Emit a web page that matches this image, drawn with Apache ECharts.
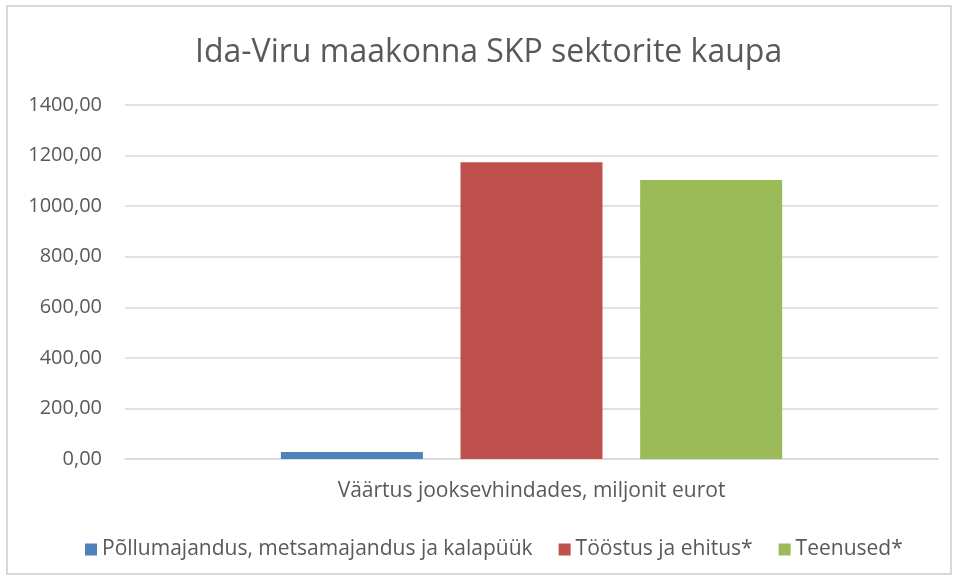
<!DOCTYPE html>
<html>
<head>
<meta charset="utf-8">
<script src="https://cdn.jsdelivr.net/npm/echarts@6/dist/echarts.min.js"></script>
<style>
    html, body { margin: 0; padding: 0; background: #fff; }
    #frame { position: absolute; left: 6px; top: 5px; width: 946px; height: 570px; border: 2px solid #d9d9d9; box-sizing: border-box; }
    #sector-chart { width: 954px; height: 577px; }
</style>
</head>
<body>
<div id="frame"></div>
<div id="sector-chart"></div>
<script>
// 数据
var categories = ['Väärtus jooksevhindades, miljonit eurot'];
var seriesNames = ['Põllumajandus, metsamajandus ja kalapüük', 'Tööstus ja ehitus*', 'Teenused*'];
var seriesColors = ['#4f81bd', '#c0504d', '#9bbb59'];
var agriValues = [27.7];
var industryValues = [1174];
var servicesValues = [1103];
var yTicks = [0, 200, 400, 600, 800, 1000, 1200, 1400];

var myChart = echarts.init(document.getElementById('sector-chart'));

var font = '"Open Sans", sans-serif';
var valueLists = [agriValues, industryValues, servicesValues];

var series = [];
for (let i = 0; i < seriesNames.length; i++) {
    series.push({
        name: seriesNames[i],
        type: 'bar',
        data: valueLists[i],
        barWidth: 142,
        barGap: '26.5%',
        itemStyle: { color: seriesColors[i] }
    });
}

var option = {
    animation: false,
    textStyle: { fontFamily: font },
    title: {
        text: 'Ida-Viru maakonna SKP sektorite kaupa',
        left: 190,
        top: 32,
        textStyle: { fontFamily: font, fontSize: 32, fontWeight: 'normal', color: '#595959' }
    },
    legend: {
        top: 534,
        left: 80,
        itemWidth: 12,
        itemHeight: 12,
        itemGap: 26,
        icon: 'rect',
        textStyle: { fontFamily: font, fontSize: 21, color: '#595959' },
        data: seriesNames
    },
    grid: { left: 125, right: 16, top: 105, bottom: 118 },
    xAxis: {
        type: 'category',
        data: categories,
        axisLine: { lineStyle: { color: '#d9d9d9', width: 1.5 } },
        axisTick: { show: false },
        axisLabel: { fontFamily: font, fontSize: 21, color: '#595959', margin: 22 }
    },
    yAxis: {
        type: 'value',
        min: yTicks[0],
        max: yTicks[yTicks.length - 1],
        interval: 200,
        axisLine: { show: false },
        axisTick: { show: false },
        splitLine: { lineStyle: { color: '#d9d9d9', width: 1.5 } },
        axisLabel: {
            fontFamily: font, fontSize: 20, color: '#595959', margin: 23,
            formatter: function (v) { return v.toFixed(2).replace('.', ','); }
        }
    },
    series: series
};

myChart.setOption(option, true);
</script>
</body>
</html>
